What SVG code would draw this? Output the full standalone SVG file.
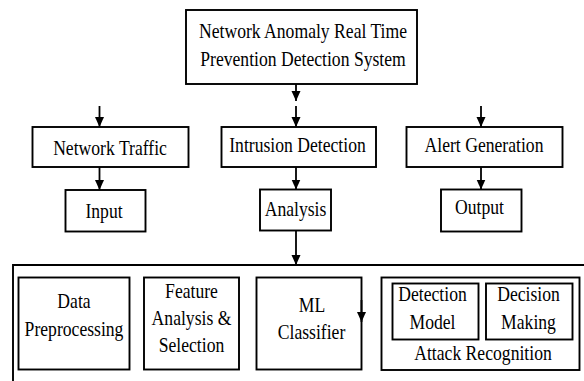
<svg xmlns="http://www.w3.org/2000/svg" width="584" height="381" viewBox="0 0 584 381">
  <style>
    .box { fill: #ffffff; stroke: #000000; stroke-width: 1.9; }
    .frame { fill: none; stroke: #000000; stroke-width: 1.9; }
    .wire { fill: none; stroke: #000000; stroke-width: 1.8; marker-end: url(#head); }
    text { font-family: "Liberation Serif", "Times New Roman", serif; font-size: 20.5px; fill: #000000; text-anchor: middle; }
  </style>
  <defs>
    <marker id="head" markerUnits="userSpaceOnUse" markerWidth="10" markerHeight="10" refX="10" refY="4.5" orient="auto">
      <path d="M0,0 L10,4.5 L0,9 Z" fill="#000000"/>
    </marker>
  </defs>
  <rect width="584" height="381" fill="#ffffff"/>

  <g id="system">
    <rect class="box" x="186" y="10" width="231" height="74"/>
    <text transform="translate(303,37.5) scale(0.86,1)">Network Anomaly Real Time</text>
    <text transform="translate(303,65.5) scale(0.86,1)">Prevention Detection System</text>
  </g>

  <g id="network-traffic">
    <rect class="box" x="32.5" y="127" width="156" height="40"/>
    <text transform="translate(110,154.5) scale(0.86,1)">Network Traffic</text>
  </g>
  <g id="intrusion-detection">
    <rect class="box" x="221.5" y="127" width="154.5" height="40"/>
    <text transform="translate(297.5,151.5) scale(0.86,1)">Intrusion Detection</text>
  </g>
  <g id="alert-generation">
    <rect class="box" x="406.5" y="127" width="156" height="40"/>
    <text transform="translate(484,151.5) scale(0.86,1)">Alert Generation</text>
  </g>

  <g id="input">
    <rect class="box" x="65.5" y="190" width="80" height="41.5"/>
    <text transform="translate(104,217.5) scale(0.86,1)">Input</text>
  </g>
  <g id="analysis">
    <rect class="box" x="260" y="189.5" width="71" height="41"/>
    <text transform="translate(295.5,215.5) scale(0.86,1)">Analysis</text>
  </g>
  <g id="output">
    <rect class="box" x="441" y="189.5" width="80.5" height="42"/>
    <text transform="translate(479.5,214) scale(0.86,1)">Output</text>
  </g>

  <g id="processing-stage">
    <path class="frame" d="M13,383 V265 H586"/>
  </g>

  <g id="data-preprocessing">
    <rect class="box" x="18.5" y="277.5" width="111" height="92"/>
    <text transform="translate(74,308) scale(0.86,1)">Data</text>
    <text transform="translate(74,335.5) scale(0.86,1)">Preprocessing</text>
  </g>
  <g id="feature-selection">
    <rect class="box" x="144" y="277.5" width="95" height="92"/>
    <text transform="translate(191.5,297.5) scale(0.86,1)">Feature</text>
    <text transform="translate(191.5,324.5) scale(0.86,1)">Analysis &amp;</text>
    <text transform="translate(191.5,351.5) scale(0.86,1)">Selection</text>
  </g>
  <g id="ml-classifier">
    <rect class="box" x="256.5" y="277.5" width="105" height="92"/>
    <text transform="translate(312,312) scale(0.86,1)">ML</text>
    <text transform="translate(311.5,339) scale(0.86,1)">Classifier</text>
  </g>
  <g id="attack-recognition">
    <rect class="box" x="381.5" y="277.5" width="198" height="92.5"/>
    <text transform="translate(483,359.5) scale(0.86,1)">Attack Recognition</text>
  </g>
  <g id="detection-model">
    <rect class="box" x="392.5" y="283.5" width="86" height="56"/>
    <text transform="translate(432.5,301) scale(0.86,1)">Detection</text>
    <text transform="translate(432.5,329) scale(0.86,1)">Model</text>
  </g>
  <g id="decision-making">
    <rect class="box" x="486" y="283.5" width="86.5" height="56"/>
    <text transform="translate(528.5,301) scale(0.86,1)">Decision</text>
    <text transform="translate(528.5,329) scale(0.86,1)">Making</text>
  </g>

  <g id="connectors">
    <path class="wire" d="M296,84 V101"/>
    <path class="wire" d="M296,106 V127"/>
    <path class="wire" d="M99.5,106 V127"/>
    <path class="wire" d="M481,106 V127"/>
    <path class="wire" d="M99.5,167 V190"/>
    <path class="wire" d="M296,167 V189.5"/>
    <path class="wire" d="M481,167 V189.5"/>
    <path class="wire" d="M296,230.5 V265"/>
    <path class="wire" d="M361.5,300 V322"/>
  </g>
</svg>
